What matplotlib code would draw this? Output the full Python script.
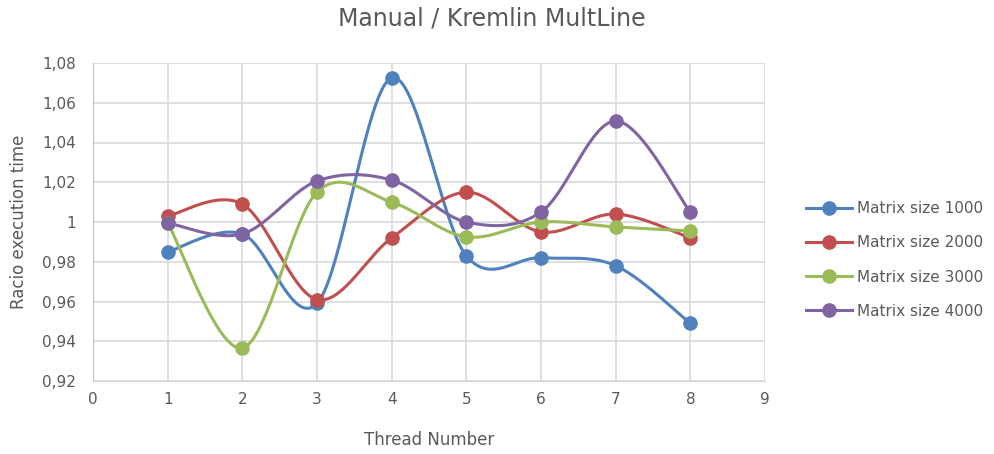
import numpy as np
import matplotlib
matplotlib.use("Agg")
import matplotlib.pyplot as plt

threads = [1, 2, 3, 4, 5, 6, 7, 8]
series_names = ["Matrix size 1000", "Matrix size 2000", "Matrix size 3000", "Matrix size 4000"]
size_1000 = [0.985, 0.994, 0.959, 1.0725, 0.983, 0.982, 0.978, 0.949]
size_2000 = [1.003, 1.009, 0.961, 0.992, 1.015, 0.995, 1.004, 0.992]
size_3000 = [0.9995, 0.9366, 1.015, 1.010, 0.9925, 1.000, 0.9975, 0.9955]
size_4000 = [0.9995, 0.994, 1.0206, 1.0211, 1.000, 1.005, 1.0508, 1.005]
colors = ["#4F81BD", "#C0504D", "#9BBB59", "#8064A2"]
y_ticks = [0.92, 0.94, 0.96, 0.98, 1.00, 1.02, 1.04, 1.06, 1.08]
y_tick_labels = ["0,92", "0,94", "0,96", "0,98", "1", "1,02", "1,04", "1,06", "1,08"]
x_ticks = [0, 1, 2, 3, 4, 5, 6, 7, 8, 9]


def smooth(xs, ys, n=40):
    xs = np.asarray(xs, float)
    ys = np.asarray(ys, float)
    P = np.column_stack([xs, ys])
    out = [P[0]]
    for i in range(len(P) - 1):
        p0 = P[i - 1] if i > 0 else P[i]
        p1 = P[i]
        p2 = P[i + 1]
        p3 = P[i + 2] if i + 2 < len(P) else P[i + 1]
        c1 = p1 + (p2 - p0) / 6.0
        c2 = p2 - (p3 - p1) / 6.0
        t = np.linspace(0, 1, n)[1:, None]
        b = ((1 - t) ** 3) * p1 + 3 * ((1 - t) ** 2) * t * c1 + 3 * (1 - t) * t ** 2 * c2 + t ** 3 * p2
        out.extend(b)
    out = np.array(out)
    return out[:, 0], out[:, 1]


fig = plt.figure(figsize=(9.94, 4.54), dpi=100)
ax = fig.add_axes([93 / 994, 1 - 381 / 454, (765 - 93) / 994, (381 - 63) / 454])

grey = "#595959"
for name, vals, c in zip(series_names, [size_1000, size_2000, size_3000, size_4000], colors):
    sx, sy = smooth(threads, vals)
    ax.plot(sx, sy, color=c, lw=2.2, solid_capstyle="round", zorder=3)
    ax.plot(threads, vals, 'o', color=c, ms=9.5, zorder=4)
    ax.plot([], [], '-o', color=c, lw=2.2, ms=9.5, label=name)

ax.set_xlim(0, 9)
ax.set_ylim(0.92, 1.08)
ax.set_xticks(x_ticks)
ax.set_yticks(y_ticks)
ax.set_yticklabels(y_tick_labels)
ax.grid(True, color="#d9d9d9", lw=1.2, zorder=0)
ax.set_axisbelow(True)
for s in ax.spines.values():
    s.set_visible(False)
ax.spines['left'].set_visible(True)
ax.spines['left'].set_color("#bfbfbf")
ax.spines['bottom'].set_visible(True)
ax.spines['bottom'].set_color("#d9d9d9")
ax.tick_params(axis='both', length=0, colors=grey, labelsize=11, pad=8)
ax.tick_params(axis='y', pad=12)

ax.set_xlabel("Thread Number", color=grey, fontsize=12, labelpad=17)
ax.set_ylabel("Racio execution time", color=grey, fontsize=12, labelpad=10)
fig.text(492 / 994, 1 - 18 / 454, "Manual / Kremlin MultLine", ha="center", va="center",
         fontsize=17, color=grey)

handles, labels = ax.get_legend_handles_labels()
leg = fig.legend(handles, labels, loc="center left", bbox_to_anchor=(800 / 994, 1 - 260 / 454),
                 frameon=False, fontsize=11, labelcolor=grey, handlelength=3.0,
                 labelspacing=1.25, handletextpad=0.3, borderaxespad=0)

fig.savefig("out.png", dpi=100)
